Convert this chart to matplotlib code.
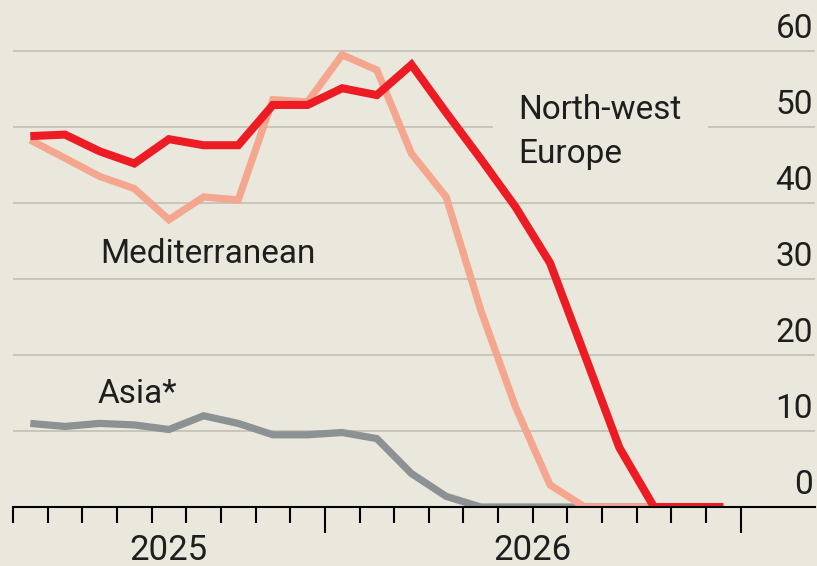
import numpy as np
import matplotlib
matplotlib.use("Agg")
import matplotlib.pyplot as plt
import matplotlib.transforms as mtransforms

# Monthly readings, plotted at mid-month (April 2025 onwards)
north_west_europe = [48.8, 49.0, 46.8, 45.2, 48.4, 47.6, 47.6, 52.9, 52.9, 55.1, 54.2,
                     58.2, 51.9, 45.8, 39.5, 32.1, 20.0, 7.8, 0.0, 0.0, 0.0]
mediterranean = [48.3, 45.9, 43.5, 41.9, 37.8, 40.8, 40.4, 53.6, 53.3, 59.5, 57.5,
                 46.5, 40.8, 25.9, 13.2, 2.9, 0.0, 0.0, 0.0, 0.0, 0.0]
asia = [11.0, 10.6, 11.0, 10.8, 10.2, 12.0, 11.0, 9.5, 9.5, 9.8, 9.0,
        4.4, 1.4, 0.0, 0.0, 0.0, 0.0, 0.0, 0.0, 0.0, 0.0]

y_ticks = [0, 10, 20, 30, 40, 50, 60]
year_labels = ["2025", "2026"]
year_label_pos = [4.5, 15.0]      # centre of each year's span, in months
year_breaks = [9, 21]             # month index where a new year starts
n_month_ticks = 22

BG = "#eae8dc"
GRID = "#c8c5bb"
RED = "#ed1c24"
SALMON = "#f4a68e"
GREY = "#8c9194"
TEXT = "#1e1e1e"

plt.rcParams["font.family"] = ["Roboto", "DejaVu Sans"]

fig = plt.figure(figsize=(8.17, 5.66), dpi=100)
fig.patch.set_facecolor(BG)
ax = fig.add_axes([13 / 817, 59 / 566, 802 / 817, 497 / 566])
ax.set_facecolor(BG)

month_px = 34.65
ax.set_xlim(0, 802 / month_px)
ax.set_ylim(0, 497 / 7.6)

x = np.arange(len(north_west_europe)) + 0.5

# horizontal grid; the 50 line is interrupted around the North-west Europe label
xmax = ax.get_xlim()[1]
for v in y_ticks[1:]:
    if v == 50:
        ax.hlines(v, 0, 13.85, color=GRID, lw=1.4, zorder=1)
        ax.hlines(v, 20.05, xmax, color=GRID, lw=1.4, zorder=1)
    else:
        ax.hlines(v, 0, xmax, color=GRID, lw=1.4, zorder=1)

ax.plot(x, asia, color=GREY, lw=5.2, solid_capstyle="butt", solid_joinstyle="miter", zorder=3)
ax.plot(x, mediterranean, color=SALMON, lw=5.2, solid_capstyle="butt", solid_joinstyle="miter", zorder=4)
ax.plot(x, north_west_europe, color=RED, lw=5.8, solid_capstyle="butt", solid_joinstyle="miter", zorder=5)

# axis styling
for s in ["left", "right", "top"]:
    ax.spines[s].set_visible(False)
ax.spines["bottom"].set_color("black")
ax.spines["bottom"].set_linewidth(1.5)
ax.spines["bottom"].set_zorder(6)
ax.set_yticks([])
ax.set_xticks(year_breaks)
ax.set_xticks([m for m in range(n_month_ticks) if m not in year_breaks], minor=True)
ax.tick_params(axis="x", which="major", length=18.7, width=1.5, color="black",
               direction="out", labelbottom=False)
ax.tick_params(axis="x", which="minor", length=11.5, width=1.5, color="black",
               direction="out", labelbottom=False)

# value labels sitting above the right end of each grid line
ytrans = mtransforms.blended_transform_factory(ax.transAxes, ax.transData)
ylab_trans = mtransforms.offset_copy(ytrans, fig=fig, x=-2, y=13, units="dots")
for v in y_ticks:
    ax.text(1.0, v, str(v), transform=ylab_trans, ha="right", va="baseline",
            fontsize=24, color=TEXT)

# year labels under the axis
xtrans = mtransforms.blended_transform_factory(ax.transData, ax.transAxes)
for lab, pos in zip(year_labels, year_label_pos):
    ax.text(pos, -0.1066, lab, transform=xtrans, ha="center", va="baseline",
            fontsize=25, color=TEXT)

# series labels
ax.text(14.57, 51.05, "North-west", fontsize=24, color=TEXT, ha="left", va="baseline")
ax.text(14.57, 45.3, "Europe", fontsize=24, color=TEXT, ha="left", va="baseline")
ax.text(2.51, 32.1, "Mediterranean", fontsize=24, color=TEXT, ha="left", va="baseline")
ax.text(2.45, 13.7, "Asia*", fontsize=24, color=TEXT, ha="left", va="baseline")

fig.savefig("out.png", dpi=100, facecolor=BG)
